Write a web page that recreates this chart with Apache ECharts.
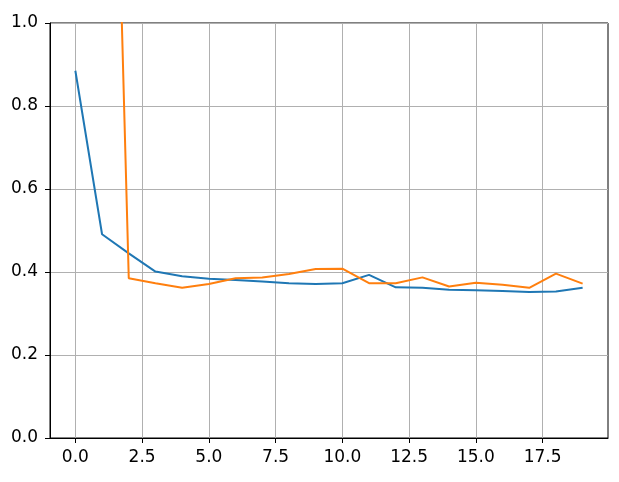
<!DOCTYPE html>
<html>
<head>
<meta charset="utf-8">
<script src="https://cdn.jsdelivr.net/npm/echarts@6/dist/echarts.min.js"></script>
<style>html,body{margin:0;padding:0;background:#fff}#c{width:619px;height:482px}</style>
</head>
<body>
<div id="c"></div>
<script>
const epochs = [0,1,2,3,4,5,6,7,8,9,10,11,12,13,14,15,16,17,18,19];
const blueValues = [0.885,0.491,0.445,0.401,0.390,0.384,0.381,0.377,0.373,0.371,0.373,0.393,0.363,0.362,0.357,0.356,0.354,0.352,0.353,0.362];
const orangeValues = [3.5,2.76,0.385,0.373,0.362,0.371,0.385,0.387,0.395,0.407,0.408,0.373,0.373,0.387,0.365,0.374,0.369,0.362,0.396,0.372];
const xTicks = [0,2.5,5,7.5,10,12.5,15,17.5];
const yTicks = [0,0.2,0.4,0.6,0.8,1.0];

const chart = echarts.init(document.getElementById('c'), null, {renderer:'canvas'});
const font = {fontFamily:'DejaVu Sans', fontSize:17, color:'#000'};
chart.setOption({
  animation:false,
  grid:{left:50,top:23,right:11,bottom:44,show:true,borderColor:'#000',borderWidth:1,backgroundColor:'transparent'},
  xAxis:{type:'value',min:-0.95,max:19.95,
    axisLine:{show:true,onZero:false,lineStyle:{color:'#000',width:1}},
    axisTick:{show:true,length:5,lineStyle:{color:'#000'},customValues:xTicks},
    axisLabel:Object.assign({customValues:xTicks,margin:11,formatter:v=>v.toFixed(1),showMinLabel:true,showMaxLabel:true},font),
    splitLine:{show:true,lineStyle:{color:'#b0b0b0',width:1}}},
  yAxis:{type:'value',min:0,max:1,interval:0.2,
    axisLine:{show:true,onZero:false,lineStyle:{color:'#000',width:1}},
    axisTick:{show:true,length:5,lineStyle:{color:'#000'}},
    axisLabel:Object.assign({margin:12,formatter:v=>v.toFixed(1)},font),
    splitLine:{show:true,lineStyle:{color:'#b0b0b0',width:1}}},
  series:[
    {type:'line',data:epochs.map((x,i)=>[x,blueValues[i]]),showSymbol:false,clip:true,lineStyle:{color:'#1f77b4',width:2},itemStyle:{color:'#1f77b4'}},
    {type:'line',data:epochs.map((x,i)=>[x,orangeValues[i]]),showSymbol:false,clip:true,lineStyle:{color:'#ff7f0e',width:2},itemStyle:{color:'#ff7f0e'}}
  ]
});
</script>
</body>
</html>
